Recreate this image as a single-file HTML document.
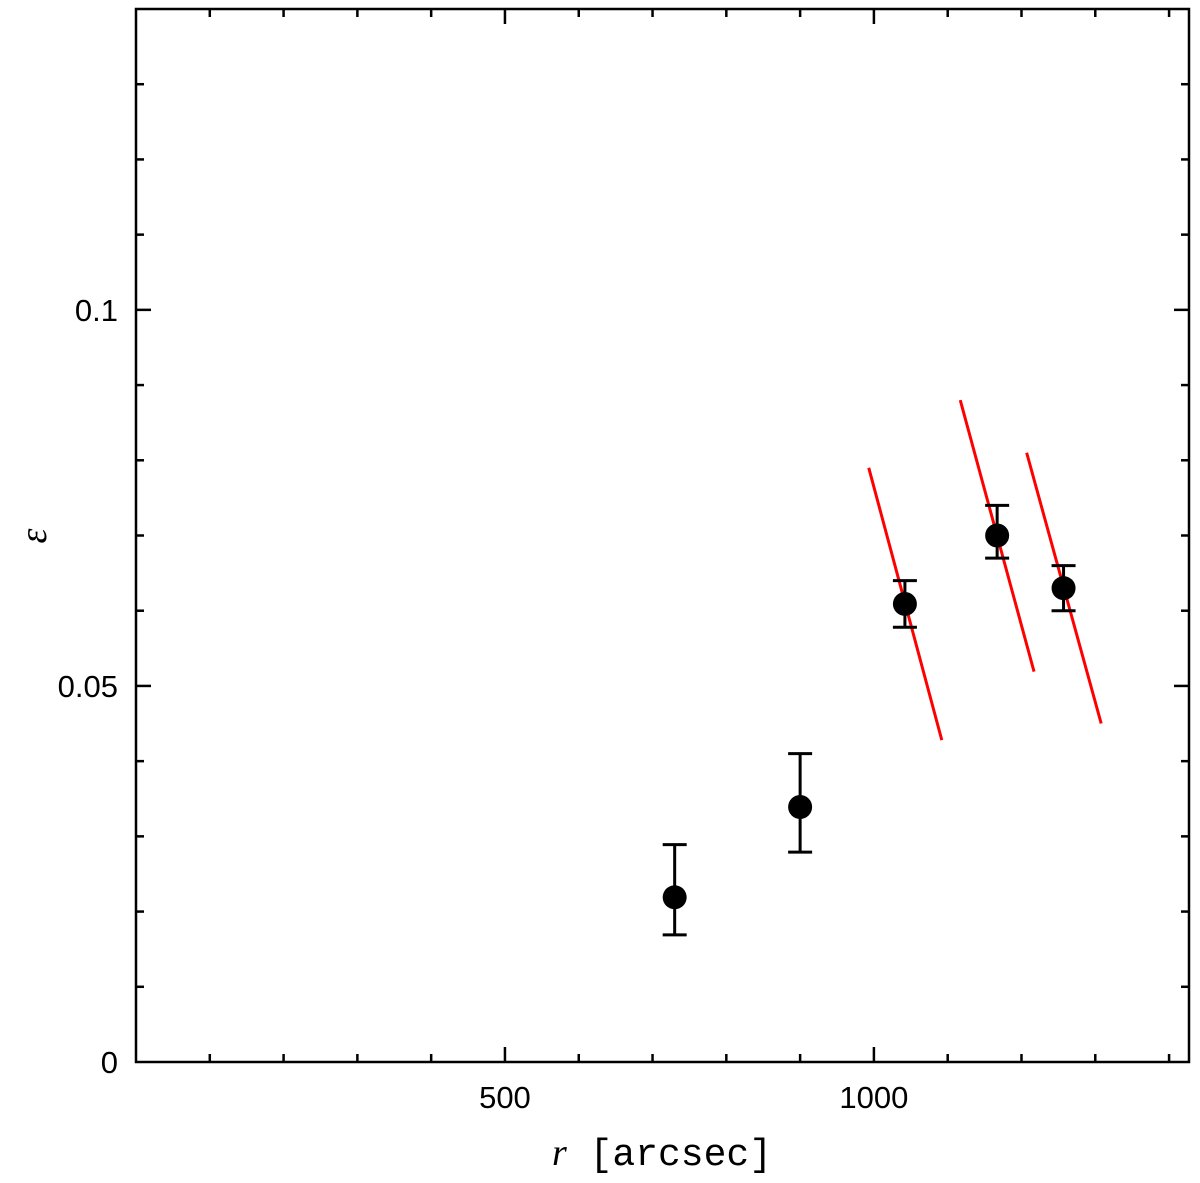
<!DOCTYPE html>
<html><head><meta charset="utf-8"><style>
body{margin:0;background:#fff;}
svg{display:block;font-family:"Liberation Sans",sans-serif;}
</style></head><body>
<svg id="chart" width="1200" height="1183"></svg>
<script>
const xs=[730,900,1042,1167,1257];
const ys=[0.0219,0.0339,0.0609,0.070,0.063];
const yHi=[0.0289,0.041,0.064,0.074,0.066];
const yLo=[0.0169,0.0279,0.0578,0.067,0.060];
const lineX1=[993,1117,1207];
const lineY1=[0.079,0.088,0.081];
const lineX2=[1092,1217,1308];
const lineY2=[0.0428,0.0519,0.045];
const xTickLabels=["500","1000"];
const yTickLabels=["0","0.05","0.1"];
const L=136,R=1189,T=9,B=1062;
const X=v=>L+v*(R-L)/1427;
const Y=v=>B-v*(B-T)/0.14;
const svg=document.getElementById('chart');
const NS='http://www.w3.org/2000/svg';
function mk(t,a,name){const e=document.createElementNS(NS,t);for(const k in a)e.setAttribute(k,a[k]);


svg.appendChild(e);return e;}
mk('rect',{x:L,y:T,width:R-L,height:B-T,fill:'none',stroke:'#000','stroke-width':2.5},'plot-frame');
for(let v=100;v<1427;v+=100){const maj=v%500==0;const len=maj?15:8;const x=X(v);
mk('line',{x1:x,x2:x,y1:B,y2:B-len,stroke:'#000','stroke-width':2.5},'x-tick');
mk('line',{x1:x,x2:x,y1:T,y2:T+len,stroke:'#000','stroke-width':2.5},'x-tick-top');}
for(let i=1;i<14;i++){const v=i*0.01;const maj=i%5==0;const len=maj?15:8;const y=Y(v);
mk('line',{x1:L,x2:L+len,y1:y,y2:y,stroke:'#000','stroke-width':2.5},'y-tick');
mk('line',{x1:R,x2:R-len,y1:y,y2:y,stroke:'#000','stroke-width':2.5},'y-tick-right');}
[500,1000].forEach((v,i)=>{const t=mk('text',{x:X(v),y:1108,'text-anchor':'middle','font-size':31},'x-tick-label');t.textContent=xTickLabels[i];});
[0,0.05,0.1].forEach((v,i)=>{const t=mk('text',{x:118,y:Y(v)+11,'text-anchor':'end','font-size':31},'y-tick-label');t.textContent=yTickLabels[i];});
let t=mk('text',{x:662,y:1165,'text-anchor':'middle','font-size':38,'font-family':'Liberation Mono, monospace'},'x-axis-title');
t.innerHTML='<tspan font-style="italic" font-family="Liberation Serif, serif">r</tspan> [arcsec]';
t=mk('text',{x:46,y:536,'text-anchor':'middle','font-size':38,'font-style':'italic','font-family':'Liberation Serif, serif',transform:'rotate(-90 46 536)'},'y-axis-title');
t.textContent='ε';
for(let i=0;i<lineX1.length;i++)mk('line',{x1:X(lineX1[i]),y1:Y(lineY1[i]),x2:X(lineX2[i]),y2:Y(lineY2[i]),stroke:'#f00','stroke-width':3},'red-line');
for(let i=0;i<xs.length;i++){const x=X(xs[i]);
mk('line',{x1:x,x2:x,y1:Y(yHi[i]),y2:Y(yLo[i]),stroke:'#000','stroke-width':3},'error-bar');
mk('line',{x1:x-12,x2:x+12,y1:Y(yHi[i]),y2:Y(yHi[i]),stroke:'#000','stroke-width':3},'error-cap');
mk('line',{x1:x-12,x2:x+12,y1:Y(yLo[i]),y2:Y(yLo[i]),stroke:'#000','stroke-width':3},'error-cap');
mk('circle',{cx:x,cy:Y(ys[i]),r:12,fill:'#000'},'data-point');}
</script>
</body></html>
